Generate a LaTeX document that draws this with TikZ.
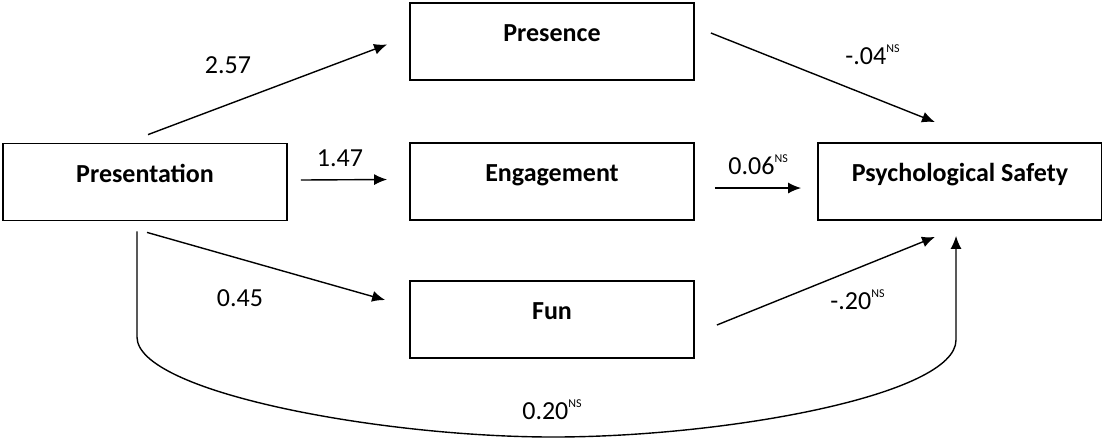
\documentclass[tikz,border=0pt]{standalone}
\usepackage{fontspec}
\setmainfont{Carlito}
\usetikzlibrary{arrows.meta,calc}
\newcommand{\ns}{\raisebox{0.45em}{\fontsize{6}{6}\selectfont NS}}
\begin{document}
\begin{tikzpicture}[x=0.5pt,y=-0.5pt,
  box/.style={draw,line width=0.9pt,rectangle,minimum width=142pt,minimum height=38.5pt,
    inner sep=0pt,text height=8pt,text depth=8pt,font=\fontsize{13}{15}\selectfont\bfseries},
  arr/.style={line width=0.7pt,-{Latex[length=6.5pt,width=5.5pt]}},
  lbl/.style={inner sep=0pt,font=\fontsize{13}{15}\selectfont}]
\useasboundingbox (0,0) rectangle (1102,441);
\node[box] (pres) at (145,182) {Presentation};
\node[box] (presence) at (552,41.5) {Presence};
\node[box] (eng) at (552,181.5) {Engagement};
\node[box] (fun) at (552,319.5) {Fun};
\node[box] (psych) at (960,181.5) {Psychological Safety};

\draw[arr] ($(pres.north)+(3,-8)$) -- ($(presence.west)+(-22,3)$);
\draw[arr] ($(pres.east)+(13,-2)$) -- ($(eng.west)+(-22,-2)$);
\draw[arr] ($(pres.south)+(2,11)$) -- ($(fun.west)+(-24,-19.5)$);
\draw[arr] ($(presence.east)+(16,-8.5)$) -- ($(psych.north)+(-25,-20)$);
\draw[arr] ($(eng.east)+(20,6.5)$) -- ($(psych.west)+(-16,6.5)$);
\draw[arr] ($(fun.east)+(22,5.5)$) -- ($(psych.south)+(-25,16)$);
\coordinate (a0) at ($(pres.south)+(-8,10)$);
\coordinate (a1) at ($(psych.south)+(-4,15)$);
\draw[arr] (a0) -- (137,337) .. controls (137,392) and (380,437) .. (553,437)
  .. controls (726,437) and (956,395) .. (956,340) -- (a1);

\node[lbl] (l1) at (228,65) {2.57};
\node[lbl] (l2) at (340,158) {1.47};
\node[lbl] (l3) at (240,298) {0.45};
\node[lbl,anchor=west] (l4) at (845,55) {-.04\ns};
\node[lbl,anchor=west] (l5) at (728,165) {0.06\ns};
\node[lbl,anchor=west] (l6) at (830,300) {-.20\ns};
\node[lbl] (l7) at (552,410) {0.20\ns};
\end{tikzpicture}
\end{document}
